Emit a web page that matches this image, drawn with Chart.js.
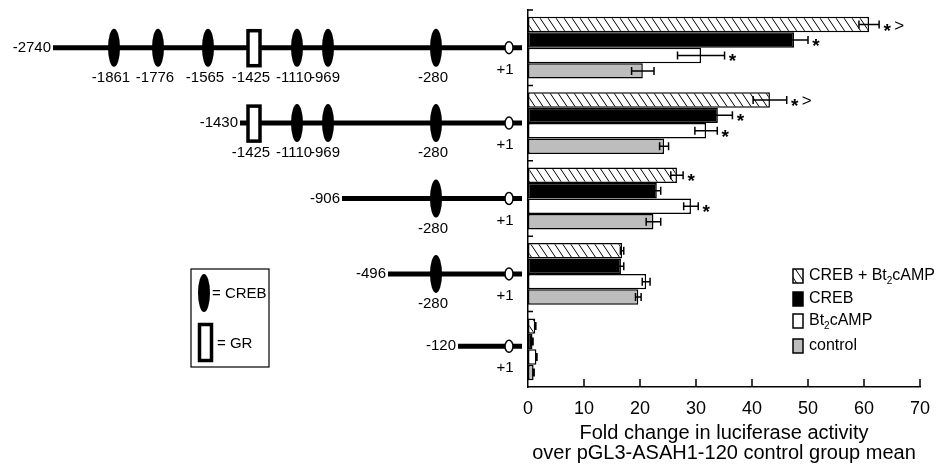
<!DOCTYPE html>
<html>
<head>
<meta charset="utf-8">
<script src="https://cdn.jsdelivr.net/npm/chart.js@4.4.0/dist/chart.umd.min.js"></script>
<style>
  html, body { margin: 0; padding: 0; background: #fff; }
  #wrap { width: 944px; height: 468px; }
</style>
</head>
<body>
<div id="wrap"><canvas id="chart" width="944" height="468"></canvas></div>
<script>
// promoter constructs (5' end of each deletion), top to bottom
const constructs = ['-2740', '-1430', '-906', '-496', '-120'];

// fold change
const combinedVals = [60.9, 43.2, 26.6, 16.8, 1.3];
const combinedErr  = [1.8, 3.0, 1.1, 0.3, 0.1];
const crebVals     = [47.5, 33.9, 23.0, 16.6, 0.8];
const crebErr      = [2.5, 2.6, 0.7, 0.5, 0.1];
const campVals     = [30.9, 31.8, 29.1, 21.1, 1.5];
const campErr      = [4.2, 2.0, 1.3, 0.7, 0.1];
const controlVals  = [20.5, 24.3, 22.4, 19.7, 1.0];
const controlErr   = [2.0, 0.8, 1.3, 0.5, 0.1];

// significance marks
const combinedSig = ['* >', '* >', '*', '', ''];
const crebSig     = ['*', '*', '', '', ''];
const campSig     = ['*', '*', '*', '', ''];
const controlSig  = ['', '', '', '', ''];

const xTicks = [0, 10, 20, 30, 40, 50, 60, 70];

// binding sites in each construct
const crebSites = [['-1861', '-1776', '-1565', '-1110', '-969', '-280'], ['-1110', '-969', '-280'], ['-280'], ['-280'], []];
const grSites   = [['-1425'], ['-1425'], [], [], []];

// schematic x positions of the promoter map (not to scale)
const siteX = {
  '-2740': 53, '-1430': 240, '-906': 342, '-496': 388, '-120': 458,
  '-1861': 114, '-1776': 158, '-1565': 208, '-1425': 254, '-1110': 297, '-969': 328, '-280': 436, '+1': 509
};

const FONT = '"Liberation Sans", Arial, Helvetica, sans-serif';
Chart.defaults.font.family = FONT;
Chart.defaults.color = '#000';

function hatch() {
  const w = 8, h = 12;
  const c = document.createElement('canvas');
  c.width = w; c.height = h;
  const g = c.getContext('2d');
  g.fillStyle = '#fff';
  g.fillRect(0, 0, w, h);
  g.strokeStyle = '#000';
  g.lineWidth = 1;
  g.beginPath();
  [[0, 0], [w, 0], [-w, 0], [0, h], [0, -h]].forEach(([dx, dy]) => {
    g.moveTo(dx, dy);
    g.lineTo(dx + w, dy + h);
  });
  g.stroke();
  return g.createPattern(c, 'repeat');
}
const hatchFill = hatch();

function richText(ctx, label, x, y, size) {
  // "Bt2" -> subscript 2
  const parts = label.split(/(?<=Bt)(2)/);
  let cx = x;
  parts.forEach(t => {
    const sub = t === '2';
    ctx.font = (sub ? Math.round(size * 0.65) : size) + 'px ' + FONT;
    ctx.fillText(t, cx, sub ? y + size * 0.32 : y);
    cx += ctx.measureText(t).width;
  });
}

const errorBars = {
  id: 'errorBars',
  afterDatasetsDraw(chart) {
    const ctx = chart.ctx;
    const xs = chart.scales.x;
    ctx.save();
    ctx.strokeStyle = '#000';
    ctx.fillStyle = '#000';
    ctx.lineWidth = 1.5;
    chart.data.datasets.forEach((ds, di) => {
      chart.getDatasetMeta(di).data.forEach((bar, i) => {
        const v = ds.data[i], e = ds.errors[i];
        const y = bar.y;
        const x1 = xs.getPixelForValue(v - e);
        const x2 = xs.getPixelForValue(v + e);
        ctx.beginPath();
        ctx.moveTo(x1, y); ctx.lineTo(x2, y);
        ctx.moveTo(x1, y - 4); ctx.lineTo(x1, y + 4);
        ctx.moveTo(x2, y - 4); ctx.lineTo(x2, y + 4);
        ctx.stroke();
        const s = ds.sig[i];
        if (s) {
          ctx.textAlign = 'center';
          ctx.textBaseline = 'alphabetic';
          ctx.font = 'bold 19px ' + FONT;
          ctx.fillText('*', x2 + 8, y + 12);
          if (s.indexOf('>') >= 0) {
            ctx.font = '17px ' + FONT;
            ctx.fillText('>', x2 + 20, y + 6);
          }
        }
      });
    });
    ctx.restore();
  }
};

const decor = {
  id: 'decor',
  afterDraw(chart) {
    const ctx = chart.ctx;
    const xs = chart.scales.x, ys = chart.scales.y;
    const area = chart.chartArea;
    ctx.save();
    ctx.strokeStyle = '#000';
    ctx.fillStyle = '#000';

    // inward tick marks
    ctx.lineWidth = 1.5;
    ctx.beginPath();
    xTicks.forEach(v => {
      if (v === 0) return;
      const px = xs.getPixelForValue(v);
      ctx.moveTo(px, area.bottom); ctx.lineTo(px, area.bottom - 8);
    });
    for (let i = 0; i < constructs.length; i++) {
      const py = ys.getPixelForValue(i - 0.5);
      ctx.moveTo(area.left, py); ctx.lineTo(area.left + 5, py);
    }
    ctx.stroke();

    // legend for the bars
    const legY = [276, 299, 321, 346];
    chart.data.datasets.forEach((ds, di) => {
      const y = legY[di];
      ctx.fillStyle = ds.backgroundColor;
      ctx.fillRect(793, y - 7, 10, 14);
      ctx.lineWidth = 1.5;
      ctx.strokeRect(793, y - 7, 10, 14);
      ctx.fillStyle = '#000';
      ctx.textAlign = 'left';
      ctx.textBaseline = 'middle';
      richText(ctx, ds.label, 809, y, 16);
    });

    // promoter maps
    const endX = 522;
    constructs.forEach((c, i) => {
      const y = ys.getPixelForValue(i) - (i === 4 ? 3 : 0);
      ctx.lineWidth = 5;
      ctx.beginPath();
      ctx.moveTo(siteX[c], y); ctx.lineTo(endX, y);
      ctx.stroke();

      ctx.font = '15px ' + FONT;
      ctx.textBaseline = 'middle';
      ctx.textAlign = 'right';
      ctx.fillText(c, siteX[c] - 2, y);

      ctx.textAlign = 'center';
      crebSites[i].forEach(s => {
        const sx = siteX[s];
        ctx.beginPath();
        ctx.ellipse(sx, y, 6, 19, 0, 0, Math.PI * 2);
        ctx.fill();
        ctx.fillText(s, sx - 3, y + 30);
      });
      grSites[i].forEach(s => {
        const sx = siteX[s];
        ctx.fillStyle = '#fff';
        ctx.fillRect(sx - 7, y - 18, 14, 37);
        ctx.fillStyle = '#000';
        ctx.lineWidth = 3.5;
        ctx.strokeRect(sx - 6, y - 17, 12, 35);
        ctx.fillText(s, sx - 3, y + 30);
      });

      // transcription start
      const tx = siteX['+1'];
      ctx.fillStyle = '#fff';
      ctx.lineWidth = 1.5;
      ctx.beginPath();
      ctx.ellipse(tx, y, 4, 6, 0, 0, Math.PI * 2);
      ctx.fill();
      ctx.stroke();
      ctx.fillStyle = '#000';
      ctx.fillText('+1', tx - 4, y + 22);
    });

    // key for the map
    ctx.lineWidth = 1.2;
    ctx.strokeRect(191, 269, 78, 98);
    ctx.beginPath();
    ctx.ellipse(204, 293, 6, 19, 0, 0, Math.PI * 2);
    ctx.fill();
    ctx.lineWidth = 3.5;
    ctx.strokeRect(199.5, 324.5, 12, 36);
    ctx.font = '15px ' + FONT;
    ctx.textAlign = 'left';
    ctx.textBaseline = 'middle';
    ctx.fillText('= CREB', 212, 294);
    ctx.fillText('= GR', 217, 344);

    ctx.restore();
  }
};

const ctx = document.getElementById('chart').getContext('2d');
new Chart(ctx, {
  type: 'bar',
  data: {
    labels: constructs,
    datasets: [
      { label: 'CREB + Bt2cAMP', data: combinedVals, errors: combinedErr, sig: combinedSig, backgroundColor: hatchFill },
      { label: 'CREB', data: crebVals, errors: crebErr, sig: crebSig, backgroundColor: '#000' },
      { label: 'Bt2cAMP', data: campVals, errors: campErr, sig: campSig, backgroundColor: '#fff' },
      { label: 'control', data: controlVals, errors: controlErr, sig: controlSig, backgroundColor: '#bdbdbd' }
    ]
  },
  options: {
    indexAxis: 'y',
    responsive: false,
    animation: false,
    layout: { padding: { left: 522, right: 24, top: 10, bottom: 0 } },
    datasets: {
      bar: {
        borderColor: '#000',
        borderWidth: 1.5,
        borderSkipped: false,
        categoryPercentage: 0.82,
        barPercentage: 1.0
      }
    },
    scales: {
      x: {
        min: 0,
        max: 70,
        ticks: { stepSize: 10, color: '#000', font: { size: 18 }, padding: 3 },
        grid: { display: false },
        border: { display: true, color: '#000', width: 1.5 },
        title: {
          display: true,
          text: ['Fold change in luciferase activity', 'over pGL3-ASAH1-120 control group mean'],
          color: '#000',
          font: { size: 20, lineHeight: 1.0 },
          padding: { top: 2, bottom: 5 }
        },
        afterFit(s) { s.height = 81; }
      },
      y: {
        ticks: { display: false },
        grid: { display: false },
        border: { display: true, color: '#000', width: 1.5 },
        afterFit(s) { s.width = 6; }
      }
    },
    plugins: {
      legend: { display: false },
      tooltip: { enabled: false }
    }
  },
  plugins: [errorBars, decor]
});
</script>
</body>
</html>
